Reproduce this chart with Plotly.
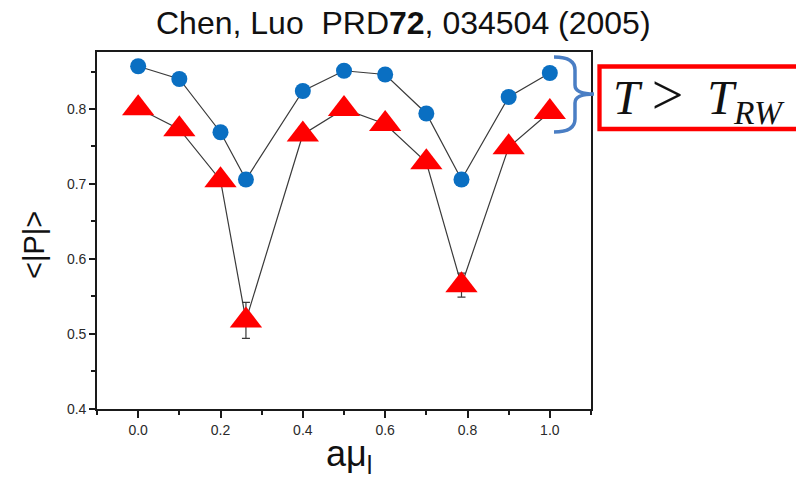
import plotly.graph_objects as go

# ---- data ----
amu_I = [0.0, 0.1, 0.2, 0.2618, 0.4, 0.5, 0.6, 0.7, 0.7854, 0.9, 1.0]
P_circle = [0.857, 0.840, 0.769, 0.706, 0.824, 0.851, 0.846, 0.794, 0.706, 0.816, 0.848]
P_triangle = [0.801, 0.773, 0.705, 0.518, 0.766, 0.800, 0.780, 0.729, 0.565, 0.749, 0.796]
P_triangle_err = [0, 0, 0, 0.024, 0, 0, 0, 0, 0.016, 0, 0]

title_text = "Chen, Luo\u00a0 PRD<b>72</b>, 034504 (2005)"
ylabel_text = "&lt;|P|&gt;"
xlabel_text = "aμ<sub>l</sub>"
box_text = ("<i>T</i>\u00a0<span style='font-size:56px'>&gt;</span>\u00a0\u00a0"
            "<i>T</i><sub><i>RW</i></sub>")

# ---- layout geometry (pixels) ----
FW, FH = 796, 479
L, T, R, B = 97, 52, 591, 409
PW, PH = R - L, B - T


def px(x):
    return (x - L) / PW


def py(y):
    return (B - y) / PH


fig = go.Figure()

line_style = dict(color="#3a3a3a", width=1.2)

fig.add_trace(go.Scatter(
    x=amu_I, y=P_circle, mode="lines+markers",
    line=line_style,
    marker=dict(symbol="circle", size=16, color="#0a6fc2"),
    showlegend=False,
))

fig.add_trace(go.Scatter(
    x=amu_I, y=P_triangle, mode="lines+markers",
    line=line_style,
    marker=dict(symbol="triangle-up", size=28, color="#ff0000"),
    error_y=dict(type="data", array=P_triangle_err, visible=True,
                 color="#3a3a3a", thickness=1.2, width=4),
    showlegend=False,
))

axis_common = dict(
    showgrid=False, zeroline=False,
    showline=True, linecolor="#1a1a1a", linewidth=1.6, mirror=True,
    ticks="outside", tickcolor="#1a1a1a", tickwidth=1.5,
    tickformat=".1f",
    tickfont=dict(family="Liberation Sans, Arial, sans-serif", size=14, color="#2a2a2a"),
)

fig.update_xaxes(
    range=[-0.1, 1.1], tick0=0, dtick=0.2, ticklen=7,
    minor=dict(dtick=0.1, tick0=0, ticks="outside", ticklen=4, tickcolor="#1a1a1a", tickwidth=1.5),
    **axis_common,
)
fig.update_yaxes(
    range=[0.3999, 0.876], tick0=0.4, dtick=0.1, ticklen=6,
    minor=dict(dtick=0.05, tick0=0.4, ticks="outside", ticklen=4, tickcolor="#1a1a1a", tickwidth=1.5),
    **axis_common,
)

# brace path (pixels -> paper)
bx = 575
pts = [
    ("M", [(554, 57)]),
    ("Q", [(bx, 57), (bx, 70)]),
    ("L", [(bx, 85)]),
    ("Q", [(bx, 94), (594, 94)]),
    ("Q", [(bx, 94), (bx, 103)]),
    ("L", [(bx, 119)]),
    ("Q", [(bx, 132), (554, 132)]),
]
path = ""
for cmd, ps in pts:
    path += cmd + " ".join(f"{px(a):.5f},{py(b):.5f}" for a, b in ps) + " "

shapes = [
    dict(type="path", xref="paper", yref="paper", path=path.strip(),
         line=dict(color="#4a7ec4", width=3.5)),
    dict(type="rect", xref="paper", yref="paper",
         x0=px(599.5), x1=px(805), y0=py(66.5), y1=py(129),
         line=dict(color="#ff0000", width=4.3), fillcolor="rgba(0,0,0,0)"),
]

annotations = [
    dict(text=title_text, xref="paper", yref="paper", x=px(403), y=py(23),
         xanchor="center", yanchor="middle", showarrow=False,
         font=dict(family="Liberation Sans, Arial, sans-serif", size=32, color="#111")),
    dict(text=ylabel_text, xref="paper", yref="paper", x=px(33.5), y=py(245.5),
         xanchor="center", yanchor="middle", showarrow=False, textangle=-90,
         font=dict(family="Liberation Sans, Arial, sans-serif", size=29, color="#111")),
    dict(text=xlabel_text, xref="paper", yref="paper", x=px(349), y=py(456),
         xanchor="center", yanchor="middle", showarrow=False,
         font=dict(family="Liberation Sans, Arial, sans-serif", size=36, color="#111")),
    dict(text=box_text, xref="paper", yref="paper", x=px(611), y=py(97),
         xanchor="left", yanchor="middle", showarrow=False,
         font=dict(family="Liberation Serif, Times New Roman, serif", size=48, color="#111")),
]

fig.update_layout(
    width=FW, height=FH,
    margin=dict(l=L, r=FW - R, t=T, b=FH - B, pad=0),
    paper_bgcolor="white", plot_bgcolor="white",
    shapes=shapes, annotations=annotations,
    showlegend=False,
)

fig.write_html("out.html")
